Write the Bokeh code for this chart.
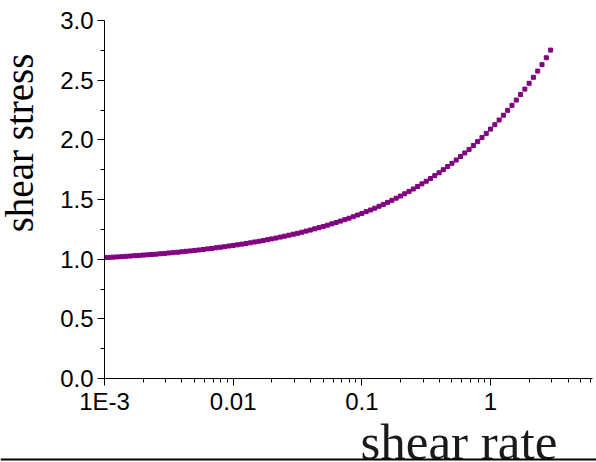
import math
from bokeh.plotting import figure
from bokeh.layouts import row, column
from bokeh.models import FixedTicker, PrintfTickFormatter, Range1d, Span
from bokeh.core.properties import value
from bokeh.embed import file_html
from bokeh.resources import INLINE

shear_rate = [
    0.001, 0.00108, 0.001166, 0.001259, 0.001359, 0.001468, 0.001585, 0.001711, 0.001848, 0.001995,
    0.002154, 0.002326, 0.002512, 0.002712, 0.002929, 0.003162, 0.003415, 0.003687, 0.003981, 0.004299,
    0.004642, 0.005012, 0.005412, 0.005843, 0.00631, 0.006813, 0.007356, 0.007943, 0.008577, 0.009261,
    0.01, 0.0108, 0.01166, 0.01259, 0.01359, 0.01468, 0.01585, 0.01711, 0.01848, 0.01995,
    0.02154, 0.02326, 0.02512, 0.02712, 0.02929, 0.03162, 0.03415, 0.03687, 0.03981, 0.04299,
    0.04642, 0.05012, 0.05412, 0.05843, 0.0631, 0.06813, 0.07356, 0.07943, 0.08577, 0.09261,
    0.1, 0.108, 0.1166, 0.1259, 0.1359, 0.1468, 0.1585, 0.1711, 0.1848, 0.1995,
    0.2154, 0.2326, 0.2512, 0.2712, 0.2929, 0.3162, 0.3415, 0.3687, 0.3981, 0.4299,
    0.4642, 0.5012, 0.5412, 0.5843, 0.631, 0.6813, 0.7356, 0.7943, 0.8577, 0.9261,
    1.0, 1.08, 1.166, 1.259, 1.359, 1.468, 1.585, 1.711, 1.848, 1.995,
    2.154, 2.326, 2.512, 2.712, 2.929,
]
shear_stress = [
    1.013, 1.015, 1.017, 1.019, 1.021, 1.024, 1.026, 1.029, 1.031, 1.034,
    1.036, 1.039, 1.042, 1.045, 1.048, 1.052, 1.055, 1.058, 1.062, 1.066,
    1.069, 1.073, 1.077, 1.081, 1.086, 1.090, 1.095, 1.100, 1.104, 1.110,
    1.115, 1.120, 1.126, 1.132, 1.137, 1.144, 1.150, 1.156, 1.163, 1.170,
    1.177, 1.185, 1.193, 1.201, 1.209, 1.217, 1.226, 1.235, 1.244, 1.254,
    1.264, 1.274, 1.285, 1.296, 1.307, 1.319, 1.331, 1.343, 1.356, 1.370,
    1.383, 1.398, 1.412, 1.427, 1.443, 1.459, 1.476, 1.493, 1.511, 1.529,
    1.548, 1.568, 1.588, 1.609, 1.631, 1.653, 1.676, 1.700, 1.724, 1.750,
    1.776, 1.803, 1.831, 1.860, 1.890, 1.920, 1.952, 1.985, 2.019, 2.054,
    2.090, 2.127, 2.166, 2.206, 2.247, 2.289, 2.333, 2.379, 2.425, 2.474,
    2.524, 2.576, 2.630, 2.688, 2.752,
]

x_ticks = [0.001, 0.01, 0.1, 1]
x_tick_labels = ["1E-3", "0.01", "0.1", "1"]
x_minor_ticks = [
    0.002, 0.003, 0.004, 0.005, 0.006, 0.007, 0.008, 0.009,
    0.02, 0.03, 0.04, 0.05, 0.06, 0.07, 0.08, 0.09,
    0.2, 0.3, 0.4, 0.5, 0.6, 0.7, 0.8, 0.9,
    2, 3, 4, 5, 6,
]
y_ticks = [0, 0.5, 1, 1.5, 2, 2.5, 3]
y_minor_ticks = [0.25, 0.75, 1.25, 1.75, 2.25, 2.75]

x_label = "shear rate"
y_label = "shear stress"


def blank(w, h):
    f = figure(width=w, height=h, x_range=Range1d(0, w), y_range=Range1d(0, h),
               x_axis_location=None, y_axis_location=None,
               output_backend="svg", toolbar_location=None,
               min_border=0, min_border_left=0, min_border_right=0,
               min_border_top=0, min_border_bottom=0)
    f.outline_line_color = None
    f.xgrid.grid_line_color = None
    f.ygrid.grid_line_color = None
    f.background_fill_color = "white"
    f.border_fill_color = "white"
    return f


# main chart
p = figure(
    width=546, height=418,
    x_axis_type="log",
    x_range=Range1d(0.001, 6.2), y_range=Range1d(0, 3),
    output_backend="svg", toolbar_location=None,
    min_border_left=54, min_border_right=4, min_border_top=20, min_border_bottom=40,
)
p.outline_line_color = None
p.xgrid.grid_line_color = None
p.ygrid.grid_line_color = None
p.background_fill_color = "white"
p.border_fill_color = "white"

p.scatter(shear_rate, shear_stress, marker="square", size=4, color="#800080")

xa = p.xaxis[0]
xa.ticker = FixedTicker(ticks=x_ticks, minor_ticks=x_minor_ticks)
xa.major_label_overrides = dict(zip(x_ticks, x_tick_labels))
ya = p.yaxis[0]
ya.ticker = FixedTicker(ticks=y_ticks, minor_ticks=y_minor_ticks)
ya.formatter = PrintfTickFormatter(format="%.1f")

for ax in (xa, ya):
    ax.axis_line_color = "black"
    ax.axis_line_width = 1
    ax.major_tick_line_color = "black"
    ax.minor_tick_line_color = "black"
    ax.major_tick_in = 0
    ax.major_tick_out = 7
    ax.minor_tick_in = 0
    ax.minor_tick_out = 4
    ax.major_label_text_font = "Liberation Sans"
    ax.major_label_text_font_size = "24px"
    ax.major_label_text_color = "black"
xa.major_label_standoff = 2
ya.major_label_standoff = 4

# left strip with the y title
left = blank(50, 418)
left.text(x=[19], y=[418 - 143], text=[y_label], angle=math.pi / 2,
          text_align="center", text_baseline="alphabetic",
          text_font=value("Liberation Serif"), text_font_size="39px", text_color="black")

# bottom strip with the x title and the rule underneath
bottom = blank(596, 44)
bottom.text(x=[360], y=[21], text=[x_label],
            text_align="left", text_baseline="alphabetic",
            text_font=value("Liberation Serif"), text_font_size="51px", text_color="#1a1a1a")
bottom.add_layout(Span(location=3, dimension="width", line_color="black", line_width=2))

layout = column(row(left, p, spacing=0), bottom, spacing=0)

open("out.html", "w").write(file_html(layout, INLINE))
